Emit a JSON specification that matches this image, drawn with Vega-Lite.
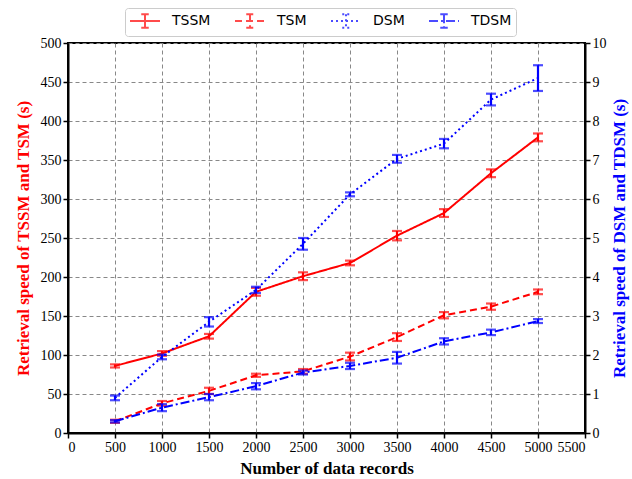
{
  "$schema": "https://vega.github.io/schema/vega-lite/v6.json",
  "width": 517,
  "height": 390,
  "autosize": {"type": "none"},
  "padding": {"left": 68, "top": 43, "right": 47, "bottom": 46},
  "background": "white",
  "config": {
    "view": {"stroke": "black", "strokeWidth": 2},
    "axis": {
      "labelFont": "Liberation Serif",
      "labelFontSize": 14,
      "labelColor": "black",
      "titleFont": "Liberation Serif",
      "titleFontSize": 17,
      "titleFontWeight": "bold",
      "domainColor": "black",
      "domainWidth": 2,
      "tickColor": "black",
      "tickWidth": 1.5,
      "tickSize": 5,
      "gridColor": "#888888",
      "gridDash": [4, 3],
      "gridWidth": 1,
      "gridOpacity": 1
    }
  },
  "data": {
    "values": [
      {"s": "TSSM", "ax": "L", "x": 500, "y": 86, "lo": 84, "hi": 88},
      {"s": "TSSM", "ax": "L", "x": 1000, "y": 102, "lo": 99, "hi": 105},
      {"s": "TSSM", "ax": "L", "x": 1500, "y": 124, "lo": 121, "hi": 127},
      {"s": "TSSM", "ax": "L", "x": 2000, "y": 181, "lo": 176, "hi": 186},
      {"s": "TSSM", "ax": "L", "x": 2500, "y": 201, "lo": 196, "hi": 206},
      {"s": "TSSM", "ax": "L", "x": 3000, "y": 218, "lo": 215, "hi": 221},
      {"s": "TSSM", "ax": "L", "x": 3500, "y": 253, "lo": 247, "hi": 259},
      {"s": "TSSM", "ax": "L", "x": 4000, "y": 282, "lo": 277, "hi": 287},
      {"s": "TSSM", "ax": "L", "x": 4500, "y": 333, "lo": 328, "hi": 338},
      {"s": "TSSM", "ax": "L", "x": 5000, "y": 379, "lo": 374, "hi": 384},
      {"s": "TSM", "ax": "L", "x": 500, "y": 15, "lo": 13, "hi": 17},
      {"s": "TSM", "ax": "L", "x": 1000, "y": 38, "lo": 35, "hi": 41},
      {"s": "TSM", "ax": "L", "x": 1500, "y": 54, "lo": 50, "hi": 58},
      {"s": "TSM", "ax": "L", "x": 2000, "y": 74, "lo": 72, "hi": 76},
      {"s": "TSM", "ax": "L", "x": 2500, "y": 79, "lo": 76, "hi": 82},
      {"s": "TSM", "ax": "L", "x": 3000, "y": 98, "lo": 93, "hi": 103},
      {"s": "TSM", "ax": "L", "x": 3500, "y": 123, "lo": 118, "hi": 128},
      {"s": "TSM", "ax": "L", "x": 4000, "y": 151, "lo": 147, "hi": 155},
      {"s": "TSM", "ax": "L", "x": 4500, "y": 162, "lo": 158, "hi": 166},
      {"s": "TSM", "ax": "L", "x": 5000, "y": 181, "lo": 178, "hi": 184},
      {"s": "DSM", "ax": "R", "x": 500, "y": 0.9, "lo": 0.84, "hi": 0.96},
      {"s": "DSM", "ax": "R", "x": 1000, "y": 1.95, "lo": 1.89, "hi": 2.01},
      {"s": "DSM", "ax": "R", "x": 1500, "y": 2.85, "lo": 2.73, "hi": 2.97},
      {"s": "DSM", "ax": "R", "x": 2000, "y": 3.67, "lo": 3.59, "hi": 3.75},
      {"s": "DSM", "ax": "R", "x": 2500, "y": 4.85, "lo": 4.7, "hi": 5.0},
      {"s": "DSM", "ax": "R", "x": 3000, "y": 6.12, "lo": 6.07, "hi": 6.17},
      {"s": "DSM", "ax": "R", "x": 3500, "y": 7.03, "lo": 6.93, "hi": 7.13},
      {"s": "DSM", "ax": "R", "x": 4000, "y": 7.42, "lo": 7.3, "hi": 7.54},
      {"s": "DSM", "ax": "R", "x": 4500, "y": 8.55, "lo": 8.4, "hi": 8.7},
      {"s": "DSM", "ax": "R", "x": 5000, "y": 9.1, "lo": 8.77, "hi": 9.43},
      {"s": "TDSM", "ax": "R", "x": 500, "y": 0.3, "lo": 0.27, "hi": 0.33},
      {"s": "TDSM", "ax": "R", "x": 1000, "y": 0.65, "lo": 0.56, "hi": 0.74},
      {"s": "TDSM", "ax": "R", "x": 1500, "y": 0.92, "lo": 0.84, "hi": 1.0},
      {"s": "TDSM", "ax": "R", "x": 2000, "y": 1.2, "lo": 1.12, "hi": 1.28},
      {"s": "TDSM", "ax": "R", "x": 2500, "y": 1.55, "lo": 1.5, "hi": 1.6},
      {"s": "TDSM", "ax": "R", "x": 3000, "y": 1.72, "lo": 1.64, "hi": 1.8},
      {"s": "TDSM", "ax": "R", "x": 3500, "y": 1.93, "lo": 1.78, "hi": 2.08},
      {"s": "TDSM", "ax": "R", "x": 4000, "y": 2.35, "lo": 2.27, "hi": 2.43},
      {"s": "TDSM", "ax": "R", "x": 4500, "y": 2.58, "lo": 2.51, "hi": 2.65},
      {"s": "TDSM", "ax": "R", "x": 5000, "y": 2.87, "lo": 2.82, "hi": 2.92}
    ]
  },
  "encoding": {
    "x": {
      "field": "x",
      "type": "quantitative",
      "scale": {"domain": [0, 5500], "nice": false},
      "axis": {
        "values": [0, 500, 1000, 1500, 2000, 2500, 3000, 3500, 4000, 4500, 5000, 5500],
        "format": "d",
        "title": "Number of data records",
        "titlePadding": 6
      }
    },
    "color": {
      "field": "s",
      "type": "nominal",
      "scale": {"domain": ["TSSM", "TSM", "DSM", "TDSM"], "range": ["#ff0000", "#ff0000", "#0000ff", "#0000ff"]},
      "legend": {
        "title": null,
        "orient": "none",
        "legendX": 57,
        "legendY": -35,
        "direction": "horizontal",
        "symbolType": "M-1,0H3M1,-0.9V0.9M0.5,-0.9H1.5M0.5,0.9H1.5",
        "symbolSize": 225,
        "symbolStrokeWidth": 2,
        "labelFont": "DejaVu Sans",
        "labelFontSize": 14,
        "labelColor": "black",
        "columnPadding": 20,
        "labelOffset": 26,
        "strokeColor": "#cccccc",
        "cornerRadius": 3,
        "padding": 4,
        "fillColor": "white"
      }
    }
  },
  "layer": [
    {
      "transform": [{"filter": "datum.ax == 'L'"}],
      "layer": [
        {
          "mark": {"type": "line", "strokeWidth": 2},
          "encoding": {
            "y": {
              "field": "y",
              "type": "quantitative",
              "scale": {"domain": [0, 500], "nice": false},
              "axis": {
                "values": [0, 50, 100, 150, 200, 250, 300, 350, 400, 450, 500],
                "title": "Retrieval speed of TSSM and TSM (s)",
                "titleColor": "#ff0000",
                "titlePadding": 8
              }
            },
            "strokeDash": {
              "field": "s",
              "type": "nominal",
              "scale": {"domain": ["TSSM", "TSM", "DSM", "TDSM"], "range": [[1, 0], [7, 4], [2, 3], [9, 3, 2, 3]]}
            }
          }
        },
        {
          "mark": {"type": "errorbar", "ticks": {"size": 10, "thickness": 2.2}, "rule": {"strokeWidth": 2.2}},
          "encoding": {
            "y": {
              "field": "lo",
              "type": "quantitative",
              "axis": {
                "values": [0, 50, 100, 150, 200, 250, 300, 350, 400, 450, 500],
                "title": "Retrieval speed of TSSM and TSM (s)",
                "titleColor": "#ff0000",
                "titlePadding": 8
              }
            },
            "y2": {"field": "hi"}
          }
        }
      ]
    },
    {
      "transform": [{"filter": "datum.ax == 'R'"}],
      "layer": [
        {
          "mark": {"type": "line", "strokeWidth": 2},
          "encoding": {
            "y": {
              "field": "y",
              "type": "quantitative",
              "scale": {"domain": [0, 10], "nice": false},
              "axis": {
                "orient": "right",
                "values": [0, 1, 2, 3, 4, 5, 6, 7, 8, 9, 10],
                "grid": false,
                "title": "Retrieval speed of DSM and TDSM (s)",
                "titleColor": "#0000ff",
                "titleAngle": 270,
                "titlePadding": 22
              }
            },
            "strokeDash": {
              "field": "s",
              "type": "nominal",
              "scale": {"domain": ["TSSM", "TSM", "DSM", "TDSM"], "range": [[1, 0], [7, 4], [2, 3], [9, 3, 2, 3]]}
            }
          }
        },
        {
          "mark": {"type": "errorbar", "ticks": {"size": 10, "thickness": 2.2}, "rule": {"strokeWidth": 2.2}},
          "encoding": {
            "y": {
              "field": "lo",
              "type": "quantitative",
              "axis": {
                "orient": "right",
                "values": [0, 1, 2, 3, 4, 5, 6, 7, 8, 9, 10],
                "grid": false,
                "title": "Retrieval speed of DSM and TDSM (s)",
                "titleColor": "#0000ff",
                "titleAngle": 270,
                "titlePadding": 22
              }
            },
            "y2": {"field": "hi"}
          }
        }
      ]
    }
  ],
  "resolve": {"scale": {"y": "independent"}}
}
